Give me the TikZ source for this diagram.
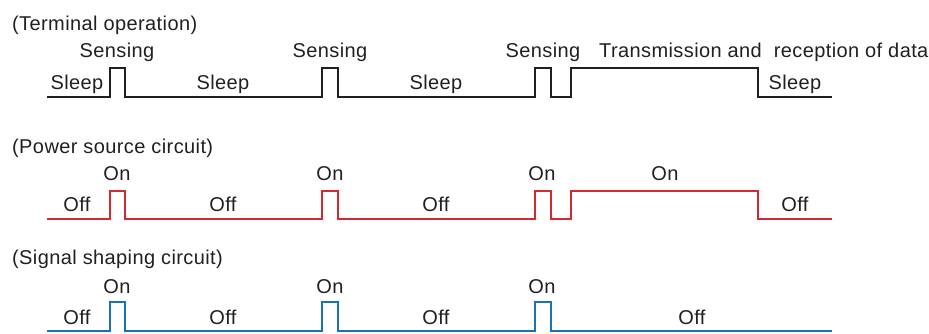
\documentclass[tikz,border=0pt]{standalone}
\usepackage{fontspec}
\setmainfont[LetterSpace=2]{Liberation Sans}
\definecolor{ink}{HTML}{231F20}
\definecolor{pwred}{HTML}{D7282F}
\definecolor{sigblue}{HTML}{1673BA}
\begin{document}
\begin{tikzpicture}[x=1pt,y=-1pt,
  lbl/.style={font=\fontsize{20}{24}\selectfont, text=ink, inner sep=0pt, anchor=base},
  ttl/.style={lbl, anchor=base west},
  wave/.style={line width=2pt, line join=miter}]
\useasboundingbox (0,0) rectangle (929,333);

% ---- terminal operation ----
\node[ttl] (t1) at (12,30) {(Terminal operation)};
\node[lbl] (s1) at (117,57) {Sensing};
\node[lbl] (s2) at (330,57) {Sensing};
\node[lbl] (s3) at (543,57) {Sensing};
\node[ttl] (tx) at (599,57) {Transmission and\ \ reception of data};
\node[lbl] (z1) at (77,89) {Sleep};
\node[lbl] (z2) at (223,89) {Sleep};
\node[lbl] (z3) at (436,89) {Sleep};
\node[lbl] (z4) at (795,89) {Sleep};
\draw[wave, ink] (47,97) -- (110,97) -- (110,68) -- (125,68) -- (125,97)
  -- (322,97) -- (322,68) -- (338,68) -- (338,97)
  -- (535,97) -- (535,68) -- (551,68) -- (551,97)
  -- (571,97) -- (571,68) -- (758,68) -- (758,97) -- (832,97);

% ---- power source circuit ----
\node[ttl] (t2) at (12,153) {(Power source circuit)};
\node[lbl] (p1) at (117,180) {On};
\node[lbl] (p2) at (330,180) {On};
\node[lbl] (p3) at (542,180) {On};
\node[lbl] (p4) at (665,180) {On};
\node[lbl] (q1) at (77,211) {Off};
\node[lbl] (q2) at (223,211) {Off};
\node[lbl] (q3) at (436,211) {Off};
\node[lbl] (q4) at (795,211) {Off};
\draw[wave, pwred] (47,219) -- (110,219) -- (110,191) -- (125,191) -- (125,219)
  -- (322,219) -- (322,191) -- (338,191) -- (338,219)
  -- (535,219) -- (535,191) -- (551,191) -- (551,219)
  -- (571,219) -- (571,191) -- (758,191) -- (758,219) -- (832,219);

% ---- signal shaping circuit ----
\node[ttl] (t3) at (12,264) {(Signal shaping circuit)};
\node[lbl] (r1) at (117,293) {On};
\node[lbl] (r2) at (330,293) {On};
\node[lbl] (r3) at (542,293) {On};
\node[lbl] (u1) at (77,324) {Off};
\node[lbl] (u2) at (223,324) {Off};
\node[lbl] (u3) at (436,324) {Off};
\node[lbl] (u4) at (692,324) {Off};
\draw[wave, sigblue] (47,331) -- (110,331) -- (110,302) -- (125,302) -- (125,331)
  -- (322,331) -- (322,302) -- (338,302) -- (338,331)
  -- (535,331) -- (535,302) -- (551,302) -- (551,331) -- (832,331);
\end{tikzpicture}
\end{document}
